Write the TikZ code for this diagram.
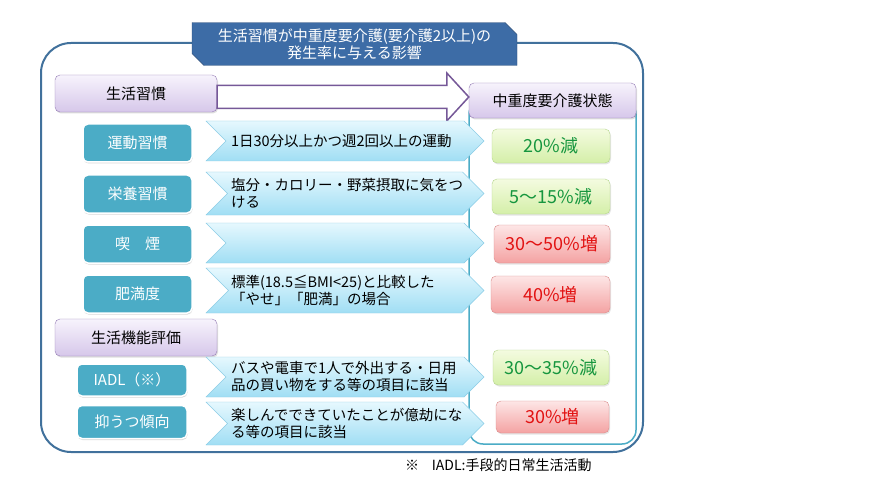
\documentclass[tikz,border=0pt]{standalone}
\usepackage{fontspec}
\setmainfont{Noto Sans CJK JP}
\usepackage{tikz}
\usetikzlibrary{calc,shapes.misc,shapes.symbols,shadows}
\definecolor{frameblue}{RGB}{65,113,156}
\definecolor{titleblue}{RGB}{61,108,166}
\definecolor{titleedge}{RGB}{40,74,118}
\definecolor{purpedge}{RGB}{150,125,182}
\definecolor{purptop}{RGB}{247,243,252}
\definecolor{purpbot}{RGB}{214,199,234}
\definecolor{arrowpurp}{RGB}{118,88,152}
\definecolor{tealfill}{RGB}{75,172,198}
\definecolor{chevedge}{RGB}{140,205,230}
\definecolor{chevtop}{RGB}{230,248,254}
\definecolor{chevbot}{RGB}{160,222,244}
\definecolor{greenedge}{RGB}{180,214,140}
\definecolor{greentop}{RGB}{244,251,224}
\definecolor{greenbot}{RGB}{212,239,168}
\definecolor{greentext}{RGB}{22,150,62}
\definecolor{rededge}{RGB}{218,140,140}
\definecolor{redtop}{RGB}{253,230,230}
\definecolor{redbot}{RGB}{244,162,162}
\definecolor{redtext}{RGB}{226,18,18}
\tikzset{%
  outerframe/.style={draw=frameblue,line width=2pt,fill=white,rounded corners=30pt},
  panel/.style={draw=tealfill,line width=1.5pt,fill=white,rounded corners=14pt},
  titlebox/.style={chamfered rectangle,chamfered rectangle corners={north east,south west},
    chamfered rectangle xsep=6pt,chamfered rectangle ysep=6pt,draw=titleedge,fill=titleblue,
    text=white,align=center,inner sep=0pt,minimum width=325pt,minimum height=42pt,
    font=\fontsize{15}{17}\selectfont},
  pbox/.style={draw=purpedge,rounded corners=5pt,top color=purptop,bottom color=purpbot,
    minimum width=162pt,minimum height=37pt,font=\fontsize{15}{18}\selectfont,
    drop shadow={opacity=.25,shadow xshift=1pt,shadow yshift=-1.5pt}},
  tbox/.style={fill=tealfill,draw=white,line width=1.5pt,rounded corners=5pt,text=white,
    minimum width=109pt,minimum height=38pt,font=\fontsize{15}{18}\selectfont,
    drop shadow={opacity=.3,shadow xshift=0.5pt,shadow yshift=-1.5pt}},
  chev/.style={signal,signal from=west,signal to=east,draw=chevedge,top color=chevtop,
    bottom color=chevbot,inner sep=0pt,minimum width=278pt,minimum height=42pt,
    text width=228pt,align=left,font=\fontsize{14.5}{17}\selectfont},
  rbox/.style={rounded corners=5pt,minimum width=118pt,minimum height=36pt,
    font=\fontsize{18}{20}\selectfont,drop shadow={opacity=.2,shadow xshift=1pt,shadow yshift=-1.5pt}},
  gres/.style={rbox,draw=greenedge,top color=greentop,bottom color=greenbot,text=greentext},
  rres/.style={rbox,draw=rededge,top color=redtop,bottom color=redbot,text=redtext},
  hollow/.style={draw=arrowpurp,line width=1.5pt,fill=white,line join=miter}
}
\begin{document}
\begin{tikzpicture}[x=1pt,y=-1pt]
  \useasboundingbox (0,0) rectangle (873,484);
  \draw[outerframe] (41,43) rectangle (643,452);
  \draw[panel] (469,100) rectangle (636,444);
  \path
    (354.5,44) node[titlebox] (ttl) {生活習慣が中重度要介護(要介護2以上)の\\発生率に与える影響}
    (136,93.5) node[pbox] (lh) {生活習慣}
    (552.5,100.5) node[pbox,minimum width=167pt,minimum height=35pt] (cs) {中重度要介護状態}
    (136,337.5) node[pbox] (fe) {生活機能評価};
  \coordinate (at) at ($(lh.east)+(0,3.5)$);
  \coordinate (ah) at ($(cs.west)+(0,-3.5)$);
  \draw[hollow] ($(at)+(0,-11.5)$) -- ($(ah)+(-22,-11.5)$) -- ($(ah)+(-22,-24)$) -- (ah)
    -- ($(ah)+(-22,24)$) -- ($(ah)+(-22,11.5)$) -- ($(at)+(0,11.5)$) -- cycle;
  \path
    (137.5,143) node[tbox] (ex) {運動習慣}
    (137.5,194) node[tbox] (nu) {栄養習慣}
    (137.5,244) node[tbox] (sm) {喫　煙}
    (137.5,294) node[tbox] (ob) {肥満度}
    (132,380) node[tbox,minimum width=110pt,minimum height=32pt] (ia) {IADL（※）}
    (132,422) node[tbox,minimum width=110pt,minimum height=33pt] (de) {抑うつ傾向};
  \path
    (345,141) node[chev,minimum height=40pt] (cex) {1日30分以上かつ週2回以上の運動}
    (345,193.5) node[chev,minimum height=43pt] (cnu) {塩分・カロリー・野菜摂取に気をつ\\ける}
    (345,243) node[chev,minimum height=40pt] (csm) {}
    (345,290.5) node[chev,minimum height=45pt] (cob) {標準(18.5≦BMI<25)と比較した\\「やせ」「肥満」の場合}
    (345,377) node[chev,minimum height=40pt] (cia) {バスや電車で1人で外出する・日用\\品の買い物をする等の項目に該当}
    (345,423.5) node[chev,minimum height=43pt] (cde) {楽しんでできていたことが億劫にな\\る等の項目に該当};
  \path
    (551,146) node[gres,minimum height=34pt] (rex) {20\%減}
    (551,196.5) node[gres,minimum height=35pt] (rnu) {5〜15\%減}
    (552,244) node[rres,minimum width=116pt,minimum height=38pt] (rsm) {30〜50\%増}
    (550.5,294.5) node[rres,minimum width=119pt,minimum height=37pt] (rob) {40\%増}
    (551,367.5) node[gres,minimum width=116pt,minimum height=35pt] (ria) {30〜35\%減}
    (552.5,417) node[rres,minimum width=113pt,minimum height=32pt] (rde) {30\%増};
  \node[anchor=west,inner sep=0pt,font=\fontsize{14}{17}\selectfont] (note) at (405,465)
    {※\hspace{0.9em}IADL:手段的日常生活活動};
\end{tikzpicture}
\end{document}
